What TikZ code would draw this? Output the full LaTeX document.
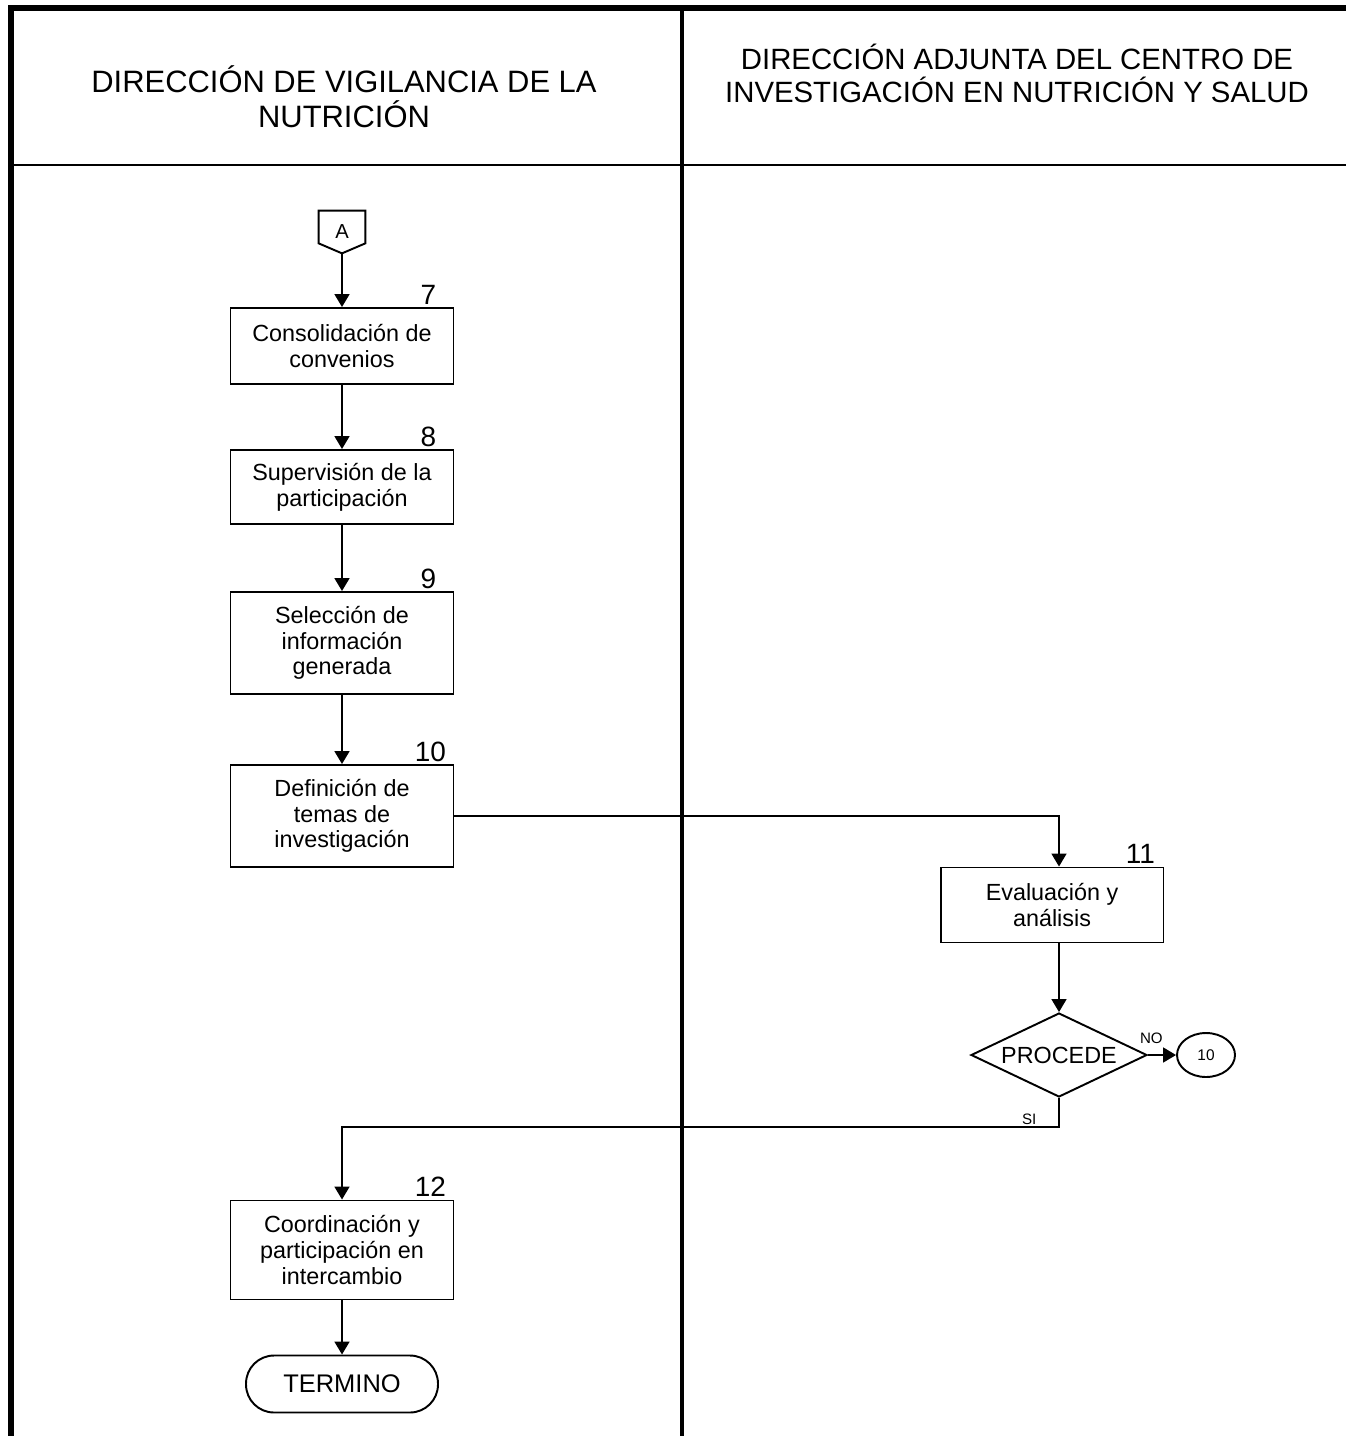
\documentclass[tikz,border=0pt]{standalone}
\usepackage{fontspec}
\setmainfont{Liberation Sans}
\usetikzlibrary{calc,shapes.geometric,positioning,arrows.meta}

\begin{document}
\begin{tikzpicture}[x=0.02cm,y=-0.02cm,
  font=\fontsize{13.3}{14.6}\selectfont,
  head/.style={align=center,font=\fontsize{17.6}{19.8}\selectfont,inner sep=0pt},
  act/.style={draw,line width=1.1pt,align=center,inner sep=0pt,minimum width=4.46cm},
  num/.style={anchor=base,inner sep=0pt,font=\fontsize{15.9}{18}\selectfont},
  ask/.style={draw,line width=1.1pt,diamond,aspect=2,inner sep=0pt,minimum width=3.52cm,minimum height=1.68cm},
  link/.style={draw,line width=1.1pt,ellipse,inner sep=0pt,minimum width=1.16cm,minimum height=0.88cm,font=\fontsize{8.8}{10}\selectfont},
  term/.style={draw,line width=1.1pt,rounded corners=0.56cm,inner sep=0pt,minimum width=3.84cm,minimum height=1.14cm,font=\fontsize{14.5}{16}\selectfont},
  flow/.style={line width=1.1pt,-{Triangle[length=7.4pt,width=8.5pt]}},
  tag/.style={font=\fontsize{8.6}{10}\selectfont,inner sep=1pt}]
\useasboundingbox (0,0) rectangle (1346,1436);

% ================= FRAME =================
\draw[line width=3.4pt,line join=miter] (11,1436) -- (11,8) -- (1346,8);
\draw[line width=1.4pt] (11,165) -- (1346,165);
\draw[line width=2pt] (682,8) -- (682,1436);
\node[head] (hleft) at (344,97) {DIRECCIÓN DE VIGILANCIA DE LA\\NUTRICIÓN};
\node[head,font=\fontsize{16.7}{18.8}\selectfont] (hright) at (1017,73) {DIRECCIÓN ADJUNTA DEL CENTRO DE\\INVESTIGACIÓN EN NUTRICIÓN Y SALUD};

% ================= LEFT LANE =================
\node[inner sep=0pt,minimum width=0.92cm,minimum height=0.84cm,font=\fontsize{11.5}{12}\selectfont] (conA) at (342,232) {A};
\draw[line width=1.1pt] (conA.north west) -- (conA.north east) -- ($(conA.south east)+(0,-10)$)
   -- (conA.south) -- ($(conA.south west)+(0,-10)$) -- cycle;

\node[act,minimum height=1.52cm] (s7) at (342,346) {Consolidación de\\convenios};
\node[act,minimum height=1.48cm] (s8) at (342,487) {Supervisión de la\\participación};
\node[act,minimum height=2.04cm] (s9) at (342,643) {Selección de\\información\\generada};
\node[act,minimum height=2.04cm] (s10) at (342,816) {Definición de\\temas de\\investigación};
\node[act,minimum height=1.98cm] (s12) at (342,1250) {Coordinación y\\participación en\\intercambio};
\node[term] (fin) at (342,1384) {TERMINO};

\node[num] (n7) at ($(s7.north east)+(-26,-3)$) {7};
\node[num] (n8) at ($(s8.north east)+(-26,-3)$) {8};
\node[num] (n9) at ($(s9.north east)+(-26,-3)$) {9};
\node[num] (n10) at ($(s10.north east)+(-24,-3)$) {10};
\node[num] (n12) at ($(s12.north east)+(-24,-3)$) {12};

\draw[flow] (conA.south) -- (s7.north);
\draw[flow] (s7) -- (s8);
\draw[flow] (s8) -- (s9);
\draw[flow] (s9) -- (s10);
\draw[flow] (s12) -- (fin);

% ================= RIGHT LANE =================
\node[act,minimum height=1.5cm] (s11) at (1052,905) {Evaluación y\\análisis};
\node[num] (n11) at ($(s11.north east)+(-24,-3)$) {11};
\node[ask] (proc) at (1059,1055) {PROCEDE};
\node[link] (back) at (1206,1055) {10};

\draw[flow] (s10.east) -| (proc.north |- s11.north);
\draw[flow] (proc.north |- s11.south) -- (proc.north);
\draw[flow] (proc.east) -- node[tag,above=5pt,pos=0.12] {NO} (back.west);
\draw[flow] (proc.south) -- ++(0,29) node[tag,anchor=south east,xshift=-0.4cm] {SI} -| (s12.north);
\end{tikzpicture}
\end{document}
